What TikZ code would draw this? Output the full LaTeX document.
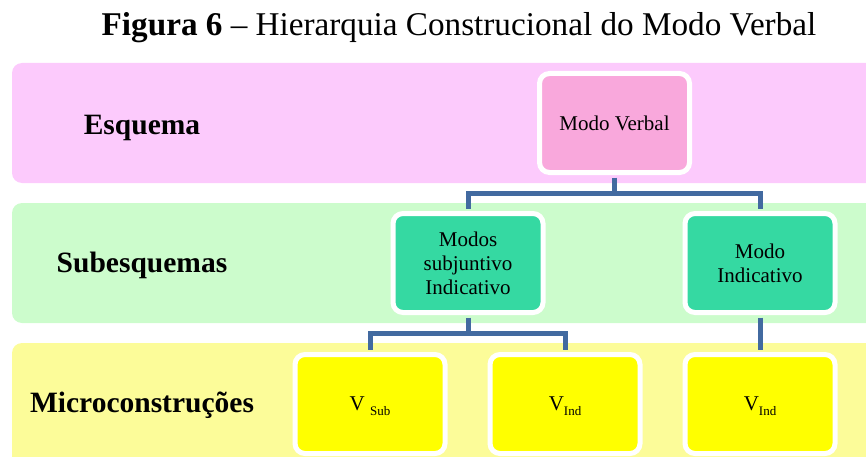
\documentclass[tikz,border=0pt]{standalone}
\usepackage{fontspec}
\setmainfont{Liberation Serif}

\definecolor{bandpink}{RGB}{252,202,252}
\definecolor{bandgreen}{RGB}{204,252,204}
\definecolor{bandyellow}{RGB}{252,252,153}
\definecolor{verbpink}{RGB}{249,168,220}
\definecolor{subgreen}{RGB}{53,217,162}
\definecolor{microyellow}{RGB}{255,255,0}
\definecolor{linkblue}{RGB}{66,106,160}

\newcommand{\lowsub}[1]{\raisebox{-5pt}[0pt][0pt]{\fontsize{13}{13}\selectfont #1}}

\begin{document}
\begin{tikzpicture}[x=1pt,y=-1pt,
	band/.style={rounded corners=10pt},
	box/.style={draw=white,line width=5pt,rounded corners=10pt,minimum width=150pt,minimum height=99pt,
		inner sep=0pt,align=center,font=\fontsize{21}{24}\selectfont},
	level/.style={anchor=base,font=\fontsize{29.5}{30}\selectfont\bfseries},
	link/.style={draw=linkblue,line width=5pt}]
	\useasboundingbox (0,0) rectangle (866,457);
	\clip (0,0) rectangle (866,457);

	% faixas
	\fill[bandpink,band] (12,63) rectangle (890,183);
	\fill[bandgreen,band] (12,203) rectangle (890,323);
	\fill[bandyellow,band] (12,343) rectangle (890,480);

	\node[anchor=base,font=\fontsize{33.2}{35}\selectfont] (title) at (459,36)
		{\textbf{Figura 6} – Hierarquia Construcional do Modo Verbal};

	\node[level] (esquema) at (142,135) {Esquema};
	\node[level] (subesq) at (142,272) {Subesquemas};
	\node[level] (micro) at (142,412) {Microconstruções};

	\node[box,fill=verbpink] (verbal) at (614.5,123) {Modo Verbal};
	\node[box,fill=subgreen] (subind) at (468,263) {Modos\\subjuntivo\\Indicativo};
	\node[box,fill=subgreen] (indic) at (760,263) {Modo\\Indicativo};
	\node[box,fill=microyellow] (vsub) at (370,404) {V \lowsub{Sub}};
	\node[box,fill=microyellow] (vind) at (565,404) {V\lowsub{Ind}};
	\node[box,fill=microyellow] (vindb) at (760,404) {V\lowsub{Ind}};

	% ligacoes
	\coordinate (forkA) at (614.5,193);
	\coordinate (forkB) at (468,333);
	\draw[link,shorten <=2.5pt] (verbal.south) -- (forkA);
	\draw[link,shorten <=2.5pt,shorten >=2.5pt] (subind.north) |- (forkA) -| (indic.north);
	\draw[link,shorten <=2.5pt] (subind.south) -- (forkB);
	\draw[link,shorten <=2.5pt,shorten >=2.5pt] (vsub.north) |- (forkB) -| (vind.north);
	\draw[link,shorten <=2.5pt,shorten >=2.5pt] (indic.south) -- (vindb.north);
\end{tikzpicture}
\end{document}
